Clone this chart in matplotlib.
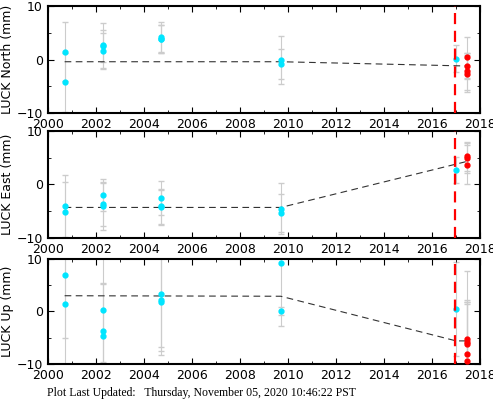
import matplotlib
matplotlib.use('Agg')
import matplotlib.pyplot as plt
import numpy as np

# observation epochs (decimal year)
t_pre = [2000.7, 2000.7, 2002.3, 2002.3, 2002.3, 2004.7, 2004.7, 2004.7, 2009.7, 2009.7, 2017.0]
t_post = 2017.45
eq_time = 2016.95

north_pre = [1.5, -4.2, 2.7, 2.5, 1.6, 4.2, 3.9, 3.8, -0.1, -0.9, 0.2]
north_pre_err = [5.5, 5.5, 4.2, 3.0, 3.3, 2.9, 2.5, 2.6, 4.5, 2.8, 2.5]
north_post = [0.4, -1.2, -2.2, -2.6]
north_post_err = [3.8, 2.5, 3.5, 3.5]
north_fit_t = [2000.7, 2009.7, 2017.45]
north_fit = [-0.4, -0.4, -1.2]

east_pre = [-4.1, -5.1, -1.9, -3.7, -4.0, -2.5, -4.1, -4.3, -4.5, -5.3, 2.7]
east_pre_err = [5.8, 5.5, 3.0, 4.0, 4.5, 3.2, 3.3, 3.3, 4.8, 3.5, 2.5]
east_post = [5.3, 5.0, 3.7]
east_post_err = [2.7, 2.8, 3.7]
east_fit_t = [2000.7, 2009.7, 2017.45]
east_fit = [-4.3, -4.3, 4.3]

up_pre = [7.0, 1.4, 0.3, -3.8, -4.6, 3.4, 2.2, 1.8, 9.3, 0.1, 0.5]
up_pre_err = [12, 12, 10, 9, 10, 11, 9, 10, 12, 0.7, 9]
up_post = [-5.3, -5.8, -6.2, -8.1, -9.5]
up_post_err = [13, 8, 8, 10, 11]
up_fit_t = [2000.7, 2009.7, 2017.0, 2017.45]
up_fit = [3.0, 2.9, -5.6, -5.6]

panels = [
    ('LUCK North (mm)', north_pre, north_pre_err, north_post, north_post_err, north_fit_t, north_fit),
    ('LUCK East (mm)', east_pre, east_pre_err, east_post, east_post_err, east_fit_t, east_fit),
    ('LUCK Up (mm)', up_pre, up_pre_err, up_post, up_post_err, up_fit_t, up_fit),
]
boxes = [(0.720, 0.985), (0.411, 0.676), (0.099, 0.359)]

fig = plt.figure(figsize=(4.93, 4.04), dpi=100)
for (label, pre, pre_err, post, post_err, ft, fv), (b, t) in zip(panels, boxes):
    ax = fig.add_axes([0.097, b, 0.877, t - b])
    ax.errorbar(t_pre, pre, yerr=pre_err, fmt='none', ecolor='#cccccc', elinewidth=0.8, capsize=2, zorder=1)
    ax.errorbar([t_post] * len(post), post, yerr=post_err, fmt='none', ecolor='#cccccc', elinewidth=0.8, capsize=2, zorder=1)
    ax.plot(ft, fv, color='#333333', ls=(0, (6, 4)), lw=0.8, zorder=2)
    ax.plot(t_pre, pre, 'o', color='#00e5ff', ms=3.5, zorder=3)
    ax.plot([t_post] * len(post), post, 'o', color='#ff0000', ms=3.5, zorder=3)
    ax.axvline(eq_time, color='#ff0000', ls=(0, (5, 3)), lw=1.6, zorder=4)
    ax.set_xlim(2000, 2018)
    ax.set_ylim(-10, 10)
    ax.set_xticks(np.arange(2000, 2019, 2))
    ax.set_yticks([-10, 0, 10])
    ax.set_yticks([-5, 5], minor=True)
    ax.set_xticks(np.arange(2001, 2018, 2), minor=True)
    ax.tick_params(direction='in', top=True, right=True, which='both', labelsize=9, length=4)
    ax.tick_params(which='minor', length=2)
    for s in ax.spines.values():
        s.set_linewidth(1.5)
    ax.set_ylabel(label, fontsize=9, labelpad=2)

fig.text(0.095, 0.02, 'Plot Last Updated:   Thursday, November 05, 2020 10:46:22 PST',
         family='Liberation Serif', fontsize=8.5)
fig.savefig('out.png', dpi=100)
